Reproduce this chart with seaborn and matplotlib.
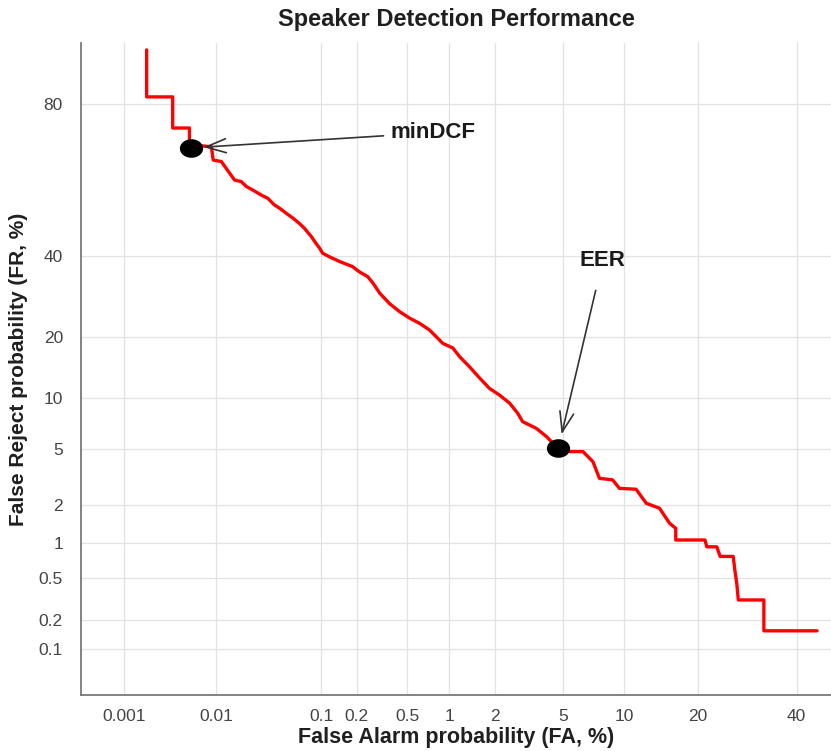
import numpy as np
import matplotlib
matplotlib.use("Agg")
import matplotlib.pyplot as plt
from matplotlib.path import Path
from matplotlib.transforms import Affine2D
from matplotlib.ticker import NullLocator
import seaborn as sns
from statistics import NormalDist

# DET curve: false alarm vs. false reject rates, in percent
fa_pct = [0.0018, 0.0018, 0.0035, 0.0035, 0.0053, 0.0053, 0.0073, 0.0090, 0.0094, 0.0114,
          0.0138, 0.0155, 0.0180, 0.0203, 0.0235, 0.0283, 0.0326, 0.0377, 0.042, 0.0486,
          0.056, 0.064, 0.071, 0.082, 0.090, 0.097, 0.103, 0.118, 0.144, 0.185,
          0.210, 0.246, 0.271, 0.307, 0.365, 0.435, 0.519, 0.618, 0.727, 0.832,
          0.902, 1.06, 1.18, 1.37, 1.60, 1.85, 2.14, 2.47, 2.76, 2.95,
          3.54, 4.05, 4.48, 4.70, 5.38, 6.33, 7.10, 7.64, 8.83, 9.51,
          11.3, 12.5, 14.2, 15.6, 16.5, 16.5, 21.2, 21.5, 23.3, 23.9,
          26.4, 26.7, 27.1, 27.4, 32.7, 32.7, 44.8]
fr_pct = [89.1, 81.4, 81.4, 74.8, 74.8, 70.5, 70.5, 70.3, 66.9, 66.5,
          63.4, 61.5, 61.1, 59.7, 58.7, 57.3, 56.4, 54.5, 53.6, 52.1,
          50.7, 49.2, 47.8, 45.4, 43.5, 42.1, 40.7, 39.7, 38.4, 37.0,
          35.6, 34.3, 32.6, 30.0, 27.5, 25.6, 24.1, 22.9, 21.5, 19.8,
          18.8, 17.9, 16.3, 14.6, 12.8, 11.3, 10.4, 9.38, 8.23, 7.35,
          6.70, 5.95, 5.28, 5.05, 4.78, 4.78, 4.10, 3.15, 3.07, 2.67,
          2.63, 2.07, 1.90, 1.45, 1.32, 1.06, 1.06, 0.93, 0.93, 0.77,
          0.77, 0.59, 0.44, 0.31, 0.31, 0.154, 0.154]

# operating points (FA %, FR %)
point_names = ["minDCF", "EER"]
point_fa = [0.0055, 4.70]
point_fr = [70.0, 5.05]

x_ticks = [0.001, 0.01, 0.1, 0.2, 0.5, 1, 2, 5, 10, 20, 40]
x_tick_labels = ["0.001", "0.01", "0.1", "0.2", "0.5", "1", "2", "5", "10", "20", "40"]
y_ticks = [0.1, 0.2, 0.5, 1, 2, 5, 10, 20, 40, 80]
y_tick_labels = ["0.1", "0.2", "0.5", "1", "2", "5", "10", "20", "40", "80"]

_nd = NormalDist()


def pct_to_deviate(p):
    """Percent -> standard normal deviate (probit)."""
    arr = np.asarray(p, dtype=float)
    flat = np.atleast_1d(arr).ravel()
    out = np.full(flat.shape, np.nan)
    ok = np.isfinite(flat)
    q = np.clip(flat[ok] / 100.0, 1e-12, 1 - 1e-12)
    out[ok] = [_nd.inv_cdf(v) for v in q]
    return out.reshape(np.shape(arr))


def deviate_to_pct(z):
    arr = np.asarray(z, dtype=float)
    flat = np.atleast_1d(arr).ravel()
    out = np.full(flat.shape, np.nan)
    ok = np.isfinite(flat)
    out[ok] = [_nd.cdf(v) * 100.0 for v in flat[ok]]
    return out.reshape(np.shape(arr))


sns.set_theme(style="white")
plt.rcParams["font.family"] = ["Liberation Sans", "DejaVu Sans"]

W, H = 831, 751
fig = plt.figure(figsize=(W / 100, H / 100), dpi=100)
ax = fig.add_axes([81 / W, 56 / H, 750 / W, 652 / H])

sns.lineplot(x=fa_pct, y=fr_pct, sort=False, estimator=None,
             color="#ff0000", linewidth=2.4, ax=ax, zorder=3)

ellipse = Path.unit_circle().transformed(Affine2D().scale(1.25, 1.0))
sns.scatterplot(x=point_fa, y=point_fr, marker=ellipse, s=280,
                color="black", edgecolor="black", linewidth=0, zorder=4, ax=ax)

ax.set_xscale("function", functions=(pct_to_deviate, deviate_to_pct))
ax.set_yscale("function", functions=(pct_to_deviate, deviate_to_pct))
ax.set_xlim(0.000304, 48.1)
ax.set_ylim(0.031, 90)

ax.set_xticks(x_ticks, labels=x_tick_labels)
ax.set_yticks(y_ticks, labels=y_tick_labels)
ax.xaxis.set_minor_locator(NullLocator())
ax.yaxis.set_minor_locator(NullLocator())

ax.set_axisbelow(True)
ax.grid(True, color="#e2e2e2", linewidth=0.9)
for side in ("top", "right"):
    ax.spines[side].set_visible(False)
for side in ("left", "bottom"):
    ax.spines[side].set_color("#7a7a7a")
    ax.spines[side].set_linewidth(1.3)

ax.tick_params(axis="x", direction="in", length=4, width=1, color="#666666",
               pad=10, labelsize=12.5, labelcolor="#444444")
ax.tick_params(axis="y", direction="out", length=5, width=1, color="#666666",
               pad=8, labelsize=12.5, labelcolor="#444444")

ax.set_title("Speaker Detection Performance", fontsize=17, fontweight="bold",
             color="#1f1f1f", pad=12)
ax.set_xlabel("False Alarm probability (FA, %)", fontsize=15.5, fontweight="bold",
              color="#1f1f1f", labelpad=2)
ax.set_ylabel("False Reject probability (FR, %)", fontsize=15, fontweight="bold",
              color="#1f1f1f", labelpad=8)

arrow_style = "->, head_length=0.8, head_width=0.28"
ax.annotate(point_names[0], xy=(point_fa[0], point_fr[0]), xycoords="data",
            xytext=(144, 11), textcoords="offset points", ha="left", va="center",
            fontsize=16, fontweight="bold", color="#1a1a1a",
            arrowprops=dict(arrowstyle=arrow_style, color="#333333", lw=1.2,
                            shrinkA=3, shrinkB=9, mutation_scale=18))
ax.annotate(point_names[1], xy=(point_fa[1], point_fr[1]), xycoords="data",
            xytext=(32, 135), textcoords="offset points", ha="center", va="center",
            fontsize=16, fontweight="bold", color="#1a1a1a",
            arrowprops=dict(arrowstyle=arrow_style, color="#333333", lw=1.2,
                            shrinkA=12, shrinkB=10, mutation_scale=18))

fig.savefig("out.png", dpi=100)
